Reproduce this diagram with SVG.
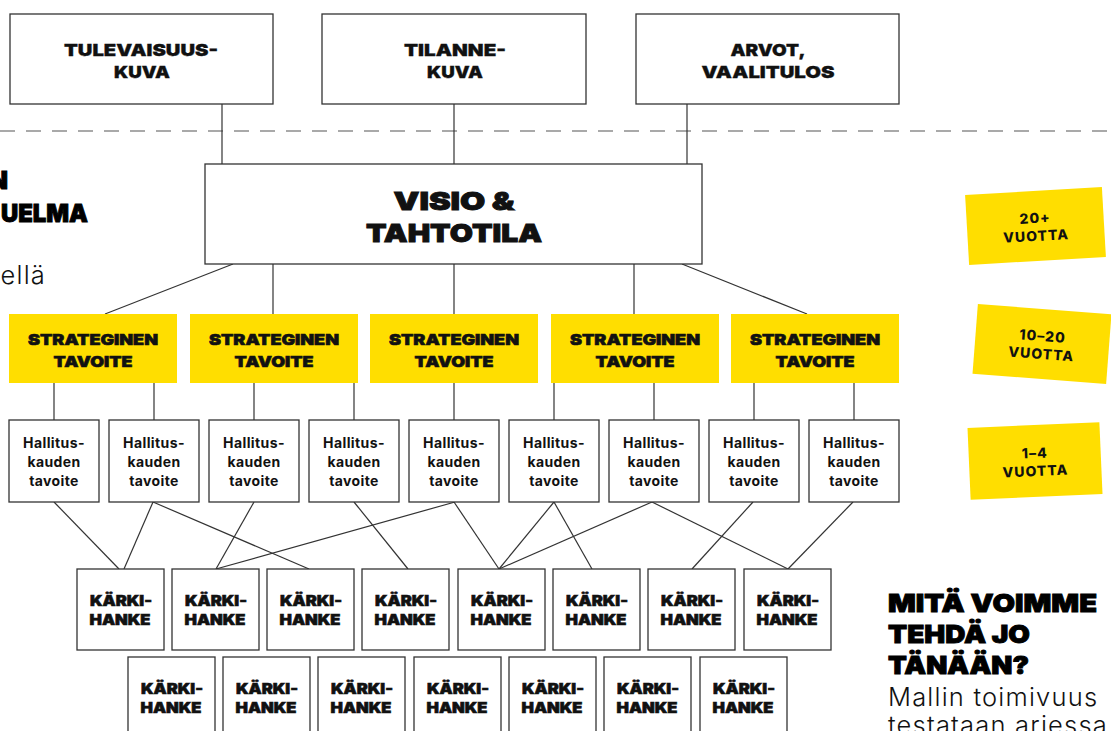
<svg xmlns="http://www.w3.org/2000/svg" width="1111" height="731" viewBox="0 0 1111 731">
<style>
.box{fill:#fff;stroke:#333;stroke-width:1.3}
.ybox{fill:#FFDE00}
.ln{stroke:#333;stroke-width:1.2;fill:none}
.h{font-family:Inter,"Liberation Sans",sans-serif;font-weight:900;fill:#111;stroke:#111;stroke-width:0.6;text-anchor:middle}
.top{font-size:16.5px;stroke-width:0.3}
.vis{font-size:25px;stroke-width:0.9}
.str{font-size:14.5px}
.hal{font-family:Inter,"Liberation Sans",sans-serif;font-weight:700;font-size:14px;letter-spacing:0.4px;fill:#111;text-anchor:middle}
.kar{font-size:14px}
.tag{font-family:Inter,"Liberation Sans",sans-serif;font-weight:800;font-size:14px;letter-spacing:1px;fill:#111;text-anchor:middle}
.big{font-family:Inter,"Liberation Sans",sans-serif;font-weight:900;font-size:25px;fill:#000;stroke:#000;stroke-width:0.9}
.lt{font-family:Inter,"Liberation Sans",sans-serif;font-weight:300;font-size:25.5px;letter-spacing:1.2px;fill:#111}
</style>
<rect width="1111" height="731" fill="#fff"/>
<line x1="0" y1="131" x2="1111" y2="131" stroke="#555" stroke-width="1.2" stroke-dasharray="15 11"/>

<g id="connectors">
<line class="ln" x1="222" y1="104" x2="222" y2="164"/>
<line class="ln" x1="454" y1="104" x2="454" y2="164"/>
<line class="ln" x1="687" y1="104" x2="687" y2="164"/>
<line class="ln" x1="233" y1="264" x2="105" y2="314"/>
<line class="ln" x1="273" y1="264" x2="273" y2="314"/>
<line class="ln" x1="454" y1="264" x2="454" y2="314"/>
<line class="ln" x1="634" y1="264" x2="634" y2="314"/>
<line class="ln" x1="682" y1="264" x2="807" y2="314"/>
<line class="ln" x1="54" y1="383" x2="54" y2="420"/>
<line class="ln" x1="154" y1="383" x2="154" y2="420"/>
<line class="ln" x1="254" y1="383" x2="254" y2="420"/>
<line class="ln" x1="354" y1="383" x2="354" y2="420"/>
<line class="ln" x1="454" y1="383" x2="454" y2="420"/>
<line class="ln" x1="554" y1="383" x2="554" y2="420"/>
<line class="ln" x1="654" y1="383" x2="654" y2="420"/>
<line class="ln" x1="754" y1="383" x2="754" y2="420"/>
<line class="ln" x1="854" y1="383" x2="854" y2="420"/>
<line class="ln" x1="54" y1="502" x2="119" y2="569"/>
<line class="ln" x1="153" y1="502" x2="124" y2="569"/>
<line class="ln" x1="153" y1="502" x2="309" y2="569"/>
<line class="ln" x1="254" y1="502" x2="216" y2="569"/>
<line class="ln" x1="354" y1="502" x2="408" y2="569"/>
<line class="ln" x1="455" y1="502" x2="216" y2="569"/>
<line class="ln" x1="454" y1="502" x2="499" y2="569"/>
<line class="ln" x1="554" y1="502" x2="499" y2="569"/>
<line class="ln" x1="554" y1="502" x2="592" y2="569"/>
<line class="ln" x1="652" y1="502" x2="499" y2="569"/>
<line class="ln" x1="652" y1="502" x2="788" y2="569"/>
<line class="ln" x1="753" y1="502" x2="692" y2="569"/>
<line class="ln" x1="853" y1="502" x2="788" y2="569"/>
</g>

<g id="tulevaisuuskuva"><rect class="box" x="10" y="14" width="263" height="90"/><text class="h top" x="141" y="56" textLength="154" lengthAdjust="spacingAndGlyphs">TULEVAISUUS-</text><text class="h top" x="142" y="78" textLength="56" lengthAdjust="spacingAndGlyphs">KUVA</text></g>
<g id="tilannekuva"><rect class="box" x="322" y="14" width="264" height="90"/><text class="h top" x="455" y="56" textLength="102" lengthAdjust="spacingAndGlyphs">TILANNE-</text><text class="h top" x="455" y="78" textLength="56" lengthAdjust="spacingAndGlyphs">KUVA</text></g>
<g id="arvot"><rect class="box" x="636" y="14" width="263" height="90"/><text class="h top" x="768" y="56" textLength="75" lengthAdjust="spacingAndGlyphs">ARVOT,</text><text class="h top" x="768" y="78" textLength="133" lengthAdjust="spacingAndGlyphs">VAALITULOS</text></g>

<g id="visio"><rect class="box" x="205" y="164" width="497" height="100"/><text class="h vis" x="454" y="210" textLength="121" lengthAdjust="spacingAndGlyphs">VISIO &amp;</text><text class="h vis" x="454" y="242" textLength="176" lengthAdjust="spacingAndGlyphs">TAHTOTILA</text></g>

<g id="strat1"><rect class="ybox" x="9" y="314" width="168" height="69"/><text class="h str" x="93" y="345" textLength="130" lengthAdjust="spacingAndGlyphs">STRATEGINEN</text><text class="h str" x="93" y="367" textLength="79" lengthAdjust="spacingAndGlyphs">TAVOITE</text></g>
<g id="strat2"><rect class="ybox" x="190" y="314" width="168" height="69"/><text class="h str" x="274" y="345" textLength="130" lengthAdjust="spacingAndGlyphs">STRATEGINEN</text><text class="h str" x="274" y="367" textLength="79" lengthAdjust="spacingAndGlyphs">TAVOITE</text></g>
<g id="strat3"><rect class="ybox" x="370" y="314" width="168" height="69"/><text class="h str" x="454" y="345" textLength="130" lengthAdjust="spacingAndGlyphs">STRATEGINEN</text><text class="h str" x="454" y="367" textLength="79" lengthAdjust="spacingAndGlyphs">TAVOITE</text></g>
<g id="strat4"><rect class="ybox" x="551" y="314" width="168" height="69"/><text class="h str" x="635" y="345" textLength="130" lengthAdjust="spacingAndGlyphs">STRATEGINEN</text><text class="h str" x="635" y="367" textLength="79" lengthAdjust="spacingAndGlyphs">TAVOITE</text></g>
<g id="strat5"><rect class="ybox" x="731" y="314" width="168" height="69"/><text class="h str" x="815" y="345" textLength="130" lengthAdjust="spacingAndGlyphs">STRATEGINEN</text><text class="h str" x="815" y="367" textLength="79" lengthAdjust="spacingAndGlyphs">TAVOITE</text></g>

<g id="hal1"><rect class="box" x="9" y="420" width="90" height="82"/><text class="hal" x="54" y="448">Hallitus-</text><text class="hal" x="54" y="467">kauden</text><text class="hal" x="54" y="486">tavoite</text></g>
<g id="hal2"><rect class="box" x="109" y="420" width="90" height="82"/><text class="hal" x="154" y="448">Hallitus-</text><text class="hal" x="154" y="467">kauden</text><text class="hal" x="154" y="486">tavoite</text></g>
<g id="hal3"><rect class="box" x="209" y="420" width="90" height="82"/><text class="hal" x="254" y="448">Hallitus-</text><text class="hal" x="254" y="467">kauden</text><text class="hal" x="254" y="486">tavoite</text></g>
<g id="hal4"><rect class="box" x="309" y="420" width="90" height="82"/><text class="hal" x="354" y="448">Hallitus-</text><text class="hal" x="354" y="467">kauden</text><text class="hal" x="354" y="486">tavoite</text></g>
<g id="hal5"><rect class="box" x="409" y="420" width="90" height="82"/><text class="hal" x="454" y="448">Hallitus-</text><text class="hal" x="454" y="467">kauden</text><text class="hal" x="454" y="486">tavoite</text></g>
<g id="hal6"><rect class="box" x="509" y="420" width="90" height="82"/><text class="hal" x="554" y="448">Hallitus-</text><text class="hal" x="554" y="467">kauden</text><text class="hal" x="554" y="486">tavoite</text></g>
<g id="hal7"><rect class="box" x="609" y="420" width="90" height="82"/><text class="hal" x="654" y="448">Hallitus-</text><text class="hal" x="654" y="467">kauden</text><text class="hal" x="654" y="486">tavoite</text></g>
<g id="hal8"><rect class="box" x="709" y="420" width="90" height="82"/><text class="hal" x="754" y="448">Hallitus-</text><text class="hal" x="754" y="467">kauden</text><text class="hal" x="754" y="486">tavoite</text></g>
<g id="hal9"><rect class="box" x="809" y="420" width="90" height="82"/><text class="hal" x="854" y="448">Hallitus-</text><text class="hal" x="854" y="467">kauden</text><text class="hal" x="854" y="486">tavoite</text></g>

<g id="k1"><rect class="box" x="77" y="569" width="87" height="81"/><text class="h kar" x="121" y="606" textLength="62" lengthAdjust="spacingAndGlyphs">KÄRKI-</text><text class="h kar" x="120" y="625" textLength="61" lengthAdjust="spacingAndGlyphs">HANKE</text></g>
<g id="k2"><rect class="box" x="172" y="569" width="87" height="81"/><text class="h kar" x="216" y="606" textLength="62" lengthAdjust="spacingAndGlyphs">KÄRKI-</text><text class="h kar" x="215" y="625" textLength="61" lengthAdjust="spacingAndGlyphs">HANKE</text></g>
<g id="k3"><rect class="box" x="267" y="569" width="87" height="81"/><text class="h kar" x="311" y="606" textLength="62" lengthAdjust="spacingAndGlyphs">KÄRKI-</text><text class="h kar" x="310" y="625" textLength="61" lengthAdjust="spacingAndGlyphs">HANKE</text></g>
<g id="k4"><rect class="box" x="362" y="569" width="87" height="81"/><text class="h kar" x="406" y="606" textLength="62" lengthAdjust="spacingAndGlyphs">KÄRKI-</text><text class="h kar" x="405" y="625" textLength="61" lengthAdjust="spacingAndGlyphs">HANKE</text></g>
<g id="k5"><rect class="box" x="458" y="569" width="87" height="81"/><text class="h kar" x="502" y="606" textLength="62" lengthAdjust="spacingAndGlyphs">KÄRKI-</text><text class="h kar" x="501" y="625" textLength="61" lengthAdjust="spacingAndGlyphs">HANKE</text></g>
<g id="k6"><rect class="box" x="553" y="569" width="87" height="81"/><text class="h kar" x="597" y="606" textLength="62" lengthAdjust="spacingAndGlyphs">KÄRKI-</text><text class="h kar" x="596" y="625" textLength="61" lengthAdjust="spacingAndGlyphs">HANKE</text></g>
<g id="k7"><rect class="box" x="648" y="569" width="87" height="81"/><text class="h kar" x="692" y="606" textLength="62" lengthAdjust="spacingAndGlyphs">KÄRKI-</text><text class="h kar" x="691" y="625" textLength="61" lengthAdjust="spacingAndGlyphs">HANKE</text></g>
<g id="k8"><rect class="box" x="744" y="569" width="87" height="81"/><text class="h kar" x="788" y="606" textLength="62" lengthAdjust="spacingAndGlyphs">KÄRKI-</text><text class="h kar" x="787" y="625" textLength="61" lengthAdjust="spacingAndGlyphs">HANKE</text></g>

<g id="k9"><rect class="box" x="128" y="657" width="87" height="90"/><text class="h kar" x="172" y="694" textLength="62" lengthAdjust="spacingAndGlyphs">KÄRKI-</text><text class="h kar" x="171" y="713" textLength="61" lengthAdjust="spacingAndGlyphs">HANKE</text></g>
<g id="k10"><rect class="box" x="223" y="657" width="87" height="90"/><text class="h kar" x="267" y="694" textLength="62" lengthAdjust="spacingAndGlyphs">KÄRKI-</text><text class="h kar" x="266" y="713" textLength="61" lengthAdjust="spacingAndGlyphs">HANKE</text></g>
<g id="k11"><rect class="box" x="318" y="657" width="87" height="90"/><text class="h kar" x="362" y="694" textLength="62" lengthAdjust="spacingAndGlyphs">KÄRKI-</text><text class="h kar" x="361" y="713" textLength="61" lengthAdjust="spacingAndGlyphs">HANKE</text></g>
<g id="k12"><rect class="box" x="414" y="657" width="87" height="90"/><text class="h kar" x="458" y="694" textLength="62" lengthAdjust="spacingAndGlyphs">KÄRKI-</text><text class="h kar" x="457" y="713" textLength="61" lengthAdjust="spacingAndGlyphs">HANKE</text></g>
<g id="k13"><rect class="box" x="509" y="657" width="87" height="90"/><text class="h kar" x="553" y="694" textLength="62" lengthAdjust="spacingAndGlyphs">KÄRKI-</text><text class="h kar" x="552" y="713" textLength="61" lengthAdjust="spacingAndGlyphs">HANKE</text></g>
<g id="k14"><rect class="box" x="604" y="657" width="87" height="90"/><text class="h kar" x="648" y="694" textLength="62" lengthAdjust="spacingAndGlyphs">KÄRKI-</text><text class="h kar" x="647" y="713" textLength="61" lengthAdjust="spacingAndGlyphs">HANKE</text></g>
<g id="k15"><rect class="box" x="700" y="657" width="87" height="90"/><text class="h kar" x="744" y="694" textLength="62" lengthAdjust="spacingAndGlyphs">KÄRKI-</text><text class="h kar" x="743" y="713" textLength="61" lengthAdjust="spacingAndGlyphs">HANKE</text></g>

<g id="tag20" transform="translate(1035.5 226) rotate(-3.3)"><rect class="ybox" x="-68.5" y="-35" width="137" height="70"/><text class="tag" x="0" y="-3">20+</text><text class="tag" x="0" y="15">VUOTTA</text></g>
<g id="tag10" transform="translate(1042 344) rotate(4.4)"><rect class="ybox" x="-67" y="-35" width="134" height="70"/><text class="tag" x="0" y="-3">10–20</text><text class="tag" x="0" y="15">VUOTTA</text></g>
<g id="tag1" transform="translate(1035 461) rotate(-2.5)"><rect class="ybox" x="-66" y="-36" width="132" height="72"/><text class="tag" x="0" y="-3">1–4</text><text class="tag" x="0" y="15">VUOTTA</text></g>

<g id="left-text">
<text class="big" x="8" y="189" text-anchor="end">N</text>
<text class="big" x="88" y="222" text-anchor="end" textLength="87" lengthAdjust="spacingAndGlyphs">UELMA</text>
<text class="lt" x="46" y="284" text-anchor="end">ellä</text>
</g>

<g id="right-text">
<text class="big" x="888" y="612" textLength="209" lengthAdjust="spacingAndGlyphs">MITÄ VOIMME</text>
<text class="big" x="888" y="643" textLength="142" lengthAdjust="spacingAndGlyphs">TEHDÄ JO</text>
<text class="big" x="888" y="674" textLength="141" lengthAdjust="spacingAndGlyphs">TÄNÄÄN?</text>
<text class="lt" x="888" y="706">Mallin toimivuus</text>
<text class="lt" x="888" y="734">testataan arjessa</text>
</g>
</svg>
